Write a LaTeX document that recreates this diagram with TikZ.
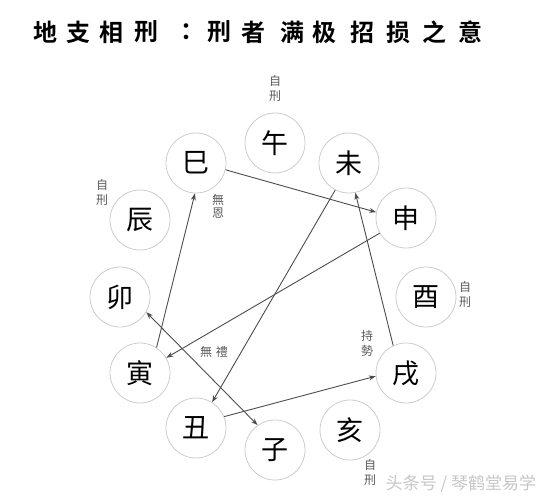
\documentclass[tikz,border=0pt]{standalone}
\usepackage{fontspec}
\newfontfamily\cjk{Noto Sans CJK SC}
\newfontfamily\cjkb{Noto Sans CJK SC Bold}
\usetikzlibrary{arrows.meta}
\tikzset{
  zhi/.style={circle,draw=gray!40,line width=0.8pt,minimum size=60pt,inner sep=0pt,font=\cjk\fontsize{27}{27}\selectfont},
  lbl/.style={inner sep=0pt,text=gray!70!black,font=\cjk\fontsize{12}{13}\selectfont,align=center},
  rel/.style={draw=gray!60!black,line width=0.9pt,-{Stealth[length=7pt,width=5pt]}},
  ttl/.style={inner sep=0pt,font=\cjkb\fontsize{24}{24}\selectfont}
}
\begin{document}
\begin{tikzpicture}[x=1pt,y=-1pt]
\useasboundingbox (0,0) rectangle (557,500);
% title
\foreach \c/\x [count=\i] in {地/45,支/78,相/111,刑/146,：/192,刑/219,者/253,满/292,极/324,招/362,损/398,之/434,意/470}
  \node[ttl] (t\i) at (\x,32) {\c};
% branches
\node[zhi] (wu)   at (275,143) {午};
\node[zhi] (wei)  at (349,163) {未};
\node[zhi] (shen) at (406,218) {申};
\node[zhi] (you)  at (426,297) {酉};
\node[zhi] (xu)   at (406,373) {戌};
\node[zhi] (hai)  at (350,430) {亥};
\node[zhi] (zi)   at (275,450) {子};
\node[zhi] (chou) at (196,428) {丑};
\node[zhi] (yin)  at (140,373) {寅};
\node[zhi] (mao)  at (120,297) {卯};
\node[zhi] (chen) at (140,220) {辰};
\node[zhi] (si)   at (196,163) {巳};
% labels
\node[lbl] (l1) at (275,88) {自\\[2pt]刑};
\node[lbl] (l2) at (102,192) {自\\[2pt]刑};
\node[lbl] (l3) at (465,294) {自\\[2pt]刑};
\node[lbl] (l4) at (370,472) {自\\[2pt]刑};
\node[lbl] (l5) at (218,206) {無\\恩};
\node[lbl] (l6) at (214,352) {無\,\,禮};
\node[lbl] (l7) at (367,343) {持\\[2pt]勢};
% relations
\draw[rel] (si.-13) -- (shen.169);
\draw[rel] (shen.210) -- (yin.30);
\draw[rel] (yin.57) -- (si.-92);
\draw[rel] (wei.-117) -- (chou.58);
\draw[rel] (chou.22) -- (xu.186);
\draw[rel] (xu.115) -- (wei.-78);
\draw[draw=gray!60!black,line width=0.9pt,{Stealth[length=7pt,width=5pt]}-{Stealth[length=7pt,width=5pt]}] (mao.-30) -- (zi.125);
% watermark
\node[inner sep=0pt,text=gray!45,font=\cjk\fontsize{17}{17}\selectfont] (wm) at (461,484) {头条号 / 琴鹤堂易学};
\end{tikzpicture}
\end{document}
